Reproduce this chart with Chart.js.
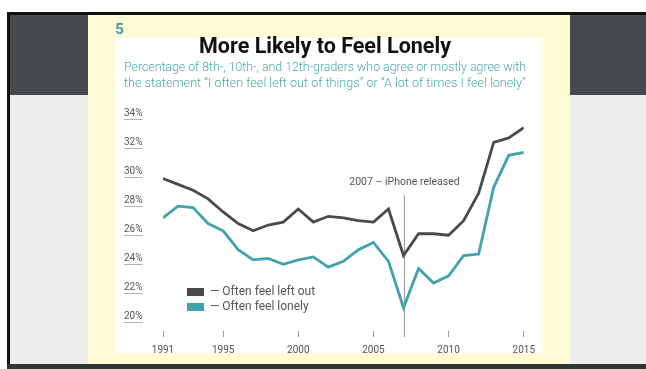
<!DOCTYPE html>
<html>
<head>
<meta charset="utf-8">
<script src="https://cdn.jsdelivr.net/npm/chart.js@4.4.1/dist/chart.umd.min.js"></script>
<style>
  html, body { margin: 0; padding: 0; background: #fff; }
  body { width: 646px; height: 369px; position: relative; overflow: hidden; font-family: Roboto, "Open Sans", sans-serif; }
  .blk { position: absolute; }
  #topline { left: 7px; top: 12px; width: 639px; height: 3px; background: #111; }
  #leftline { left: 7px; top: 12px; width: 3px; height: 357px; background: #111; }
  #dark { left: 10px; top: 15px; width: 636px; height: 80px; background: #45484c; }
  #light { left: 10px; top: 95px; width: 636px; height: 270px; background: #eeeeee; }
  #bottom { left: 7px; top: 364px; width: 639px; height: 5px; background: #333537; }
  #yellow { left: 88px; top: 15px; width: 482px; height: 349px; background: #fefbd5; }
  #white { left: 115px; top: 38px; width: 427px; height: 315px; background: #fff; }
  #num { left: 115px; top: 20px; font: 700 15px Roboto, sans-serif; color: #3f9fa9; }
  #chart { position: absolute; left: 115px; top: 30px; }
</style>
</head>
<body>
<div class="blk" id="topline"></div>
<div class="blk" id="leftline"></div>
<div class="blk" id="dark"></div>
<div class="blk" id="light"></div>
<div class="blk" id="bottom"></div>
<div class="blk" id="yellow"></div>
<div class="blk" id="white"></div>
<div class="blk" id="num">5</div>
<canvas id="chart" width="427" height="330"></canvas>
<script>
// survey years and percentages
const years = [1991, 1992, 1993, 1994, 1995, 1996, 1997, 1998, 1999, 2000, 2001, 2002, 2003,
  2004, 2005, 2006, 2007, 2008, 2009, 2010, 2011, 2012, 2013, 2014, 2015];
const leftOut = [29.5, 29.1, 28.7, 28.1, 27.2, 26.4, 25.9, 26.3, 26.5, 27.4, 26.5, 26.9, 26.8,
  26.6, 26.5, 27.4, 24.2, 25.7, 25.7, 25.6, 26.6, 28.5, 32.0, 32.3, 33.0];
const lonely = [26.8, 27.6, 27.5, 26.4, 25.9, 24.6, 23.9, 24.0, 23.6, 23.9, 24.1, 23.4, 23.8,
  24.6, 25.1, 23.8, 20.6, 23.3, 22.3, 22.8, 24.2, 24.3, 28.9, 31.1, 31.3];
const seriesNames = ['Often feel left out', 'Often feel lonely'];
const xTicks = [1991, 1995, 2000, 2005, 2010, 2015];
const yTicks = [20, 22, 24, 26, 28, 30, 32, 34];
const iphoneYear = 2007;
const iphoneLabel = '2007 – iPhone released';

const DARK = '#4a4a4c';
const TEAL = '#3fa2ac';
const TEXT = '#555';
const tickFont = '10px Roboto, sans-serif';

const extras = {
  id: 'extras',
  beforeDatasetsDraw(chart) {
    const { ctx, chartArea, scales: { x } } = chart;
    const px = Math.round(x.getPixelForValue(iphoneYear)) + 0.5;
    const labelY = chartArea.top + 69;
    ctx.save();
    ctx.font = '10.5px Roboto, sans-serif';
    ctx.fillStyle = TEXT;
    ctx.textAlign = 'center';
    ctx.textBaseline = 'middle';
    ctx.fillText(iphoneLabel, px, labelY);
    ctx.strokeStyle = '#9a9a9a';
    ctx.lineWidth = 1;
    ctx.beginPath();
    ctx.moveTo(px, labelY + 13);
    ctx.lineTo(px, chartArea.bottom + 6);
    ctx.stroke();
    ctx.restore();
  },
  afterDraw(chart) {
    const { ctx, chartArea, scales: { y } } = chart;
    ctx.save();
    // underline under each y tick label
    ctx.font = tickFont;
    ctx.strokeStyle = '#b5b5b5';
    ctx.lineWidth = 1;
    y.ticks.forEach(t => {
      const py = Math.round(y.getPixelForValue(t.value)) + 6.5;
      const w = ctx.measureText(t.value + '%').width;
      ctx.beginPath();
      ctx.moveTo(y.left, py);
      ctx.lineTo(y.left + w, py);
      ctx.stroke();
    });
    // legend in the lower left of the plot
    const lx = chartArea.left + 24;
    const rows = [chartArea.bottom - 39, chartArea.bottom - 24];
    ctx.font = '12px Roboto, sans-serif';
    ctx.textBaseline = 'middle';
    chart.data.datasets.forEach((ds, i) => {
      ctx.fillStyle = ds.borderColor;
      ctx.fillRect(lx, rows[i] - 4, 17, 8);
      ctx.fillStyle = TEXT;
      ctx.fillText('— ' + ds.label, lx + 23, rows[i]);
    });
    ctx.restore();
  }
};

new Chart(document.getElementById('chart'), {
  type: 'line',
  data: {
    datasets: [
      { label: seriesNames[0], data: years.map((yr, i) => ({ x: yr, y: leftOut[i] })), borderColor: DARK },
      { label: seriesNames[1], data: years.map((yr, i) => ({ x: yr, y: lonely[i] })), borderColor: TEAL }
    ]
  },
  options: {
    responsive: false,
    animation: false,
    layout: { padding: { left: 9, right: 16, top: 0, bottom: 3 } },
    elements: {
      point: { radius: 0 },
      line: { borderWidth: 2.8, tension: 0, borderJoinStyle: 'miter' }
    },
    plugins: {
      legend: { display: false },
      tooltip: { enabled: false },
      title: {
        display: true,
        text: 'More Likely to Feel Lonely',
        color: '#111',
        font: { family: 'Roboto', size: 21.5, weight: '700', lineHeight: 1.1 },
        padding: { top: 5.5, bottom: 0 }
      },
      subtitle: {
        display: true,
        text: [
          'Percentage of 8th-, 10th-, and 12th-graders who agree or mostly agree with',
          'the statement “I often feel left out of things” or “A lot of times I feel lonely”'
        ],
        color: '#4aa8b1',
        font: { family: 'Roboto', size: 13.2, weight: '300', lineHeight: 1.25 },
        padding: { top: 0, bottom: 21.1 }
      }
    },
    scales: {
      x: {
        type: 'linear',
        min: 1991,
        max: 2015,
        afterBuildTicks: s => { s.ticks = xTicks.map(v => ({ value: v })); },
        afterFit: s => { s.height = 26; },
        border: { display: false },
        grid: { drawOnChartArea: false, drawTicks: true, tickLength: 6, color: '#999' },
        ticks: { color: TEXT, font: { family: 'Roboto', size: 10 }, padding: 7, maxRotation: 0, callback: v => String(v) }
      },
      y: {
        min: 19,
        max: 34,
        afterBuildTicks: s => { s.ticks = yTicks.map(v => ({ value: v })); },
        afterFit: s => { s.width = 39; },
        border: { display: false },
        grid: { display: false, drawTicks: false },
        ticks: { color: TEXT, font: { family: 'Roboto', size: 10 }, crossAlign: 'far', padding: 20, callback: v => v + '%' }
      }
    }
  },
  plugins: [extras]
});
</script>
</body>
</html>
